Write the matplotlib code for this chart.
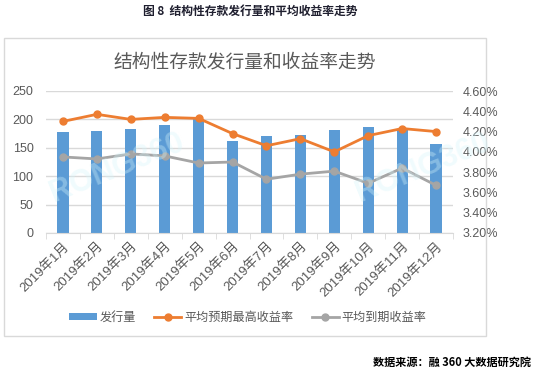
import matplotlib.pyplot as plt
import matplotlib.patches as patches
import numpy as np

plt.rcParams['font.family'] = ['Liberation Sans', 'Noto Sans CJK SC']

months = ['2019年1月', '2019年2月', '2019年3月', '2019年4月', '2019年5月', '2019年6月',
          '2019年7月', '2019年8月', '2019年9月', '2019年10月', '2019年11月', '2019年12月']
volume = [177, 179, 183, 190, 201, 162, 170, 172, 181, 186, 182, 157]
max_yield = [4.30, 4.37, 4.32, 4.34, 4.33, 4.18, 4.06, 4.13, 4.00, 4.16, 4.23, 4.20]
exp_yield = [3.95, 3.93, 3.98, 3.96, 3.89, 3.90, 3.73, 3.78, 3.81, 3.69, 3.84, 3.67]

blue = '#5B9BD5'
orange = '#ED7D31'
grey = '#A5A5A5'
txt = '#595959'

fig = plt.figure(figsize=(5.37, 3.75), dpi=100)

# chart frame
fig.patches.append(patches.Rectangle((4/537, 1-336/375), 482/537, 298/375,
                                     transform=fig.transFigure, fill=False,
                                     edgecolor='#D9D9D9', linewidth=1))

ax = fig.add_axes([46/537, 1-233/375, 407/537, 142/375])
x = np.arange(len(months))

ax.bar(x, volume, width=0.33, color=blue, zorder=2, label='发行量')
ax.set_ylim(0, 250)
ax.set_yticks(range(0, 251, 50))
ax.set_xlim(-0.5, 11.5)
ax.grid(axis='y', color='#D9D9D9', linewidth=1, zorder=0)
for s in ['top', 'left', 'right']:
    ax.spines[s].set_visible(False)
ax.spines['bottom'].set_color('#D9D9D9')
ax.tick_params(axis='y', length=0, labelsize=9, labelcolor=txt, pad=9)
ax.set_xticks(x)
ax.set_xticklabels(months, rotation=45, ha='right', rotation_mode='anchor',
                   fontsize=9.5, color=txt)
ax.tick_params(axis='x', length=0, pad=5)
ax.set_xticks(np.arange(-0.5, 12, 1), minor=True)
ax.tick_params(axis='x', which='minor', length=4, color='#D9D9D9')

ax2 = ax.twinx()
ax2.plot(x, max_yield, color=orange, linewidth=2, marker='o', markersize=5,
         label='平均预期最高收益率', zorder=3)
ax2.plot(x, exp_yield, color=grey, linewidth=2, marker='o', markersize=5,
         label='平均到期收益率', zorder=3)
ax2.set_ylim(3.2, 4.6)
ax2.set_yticks(np.arange(3.2, 4.61, 0.2))
ax2.set_yticklabels(['%.2f%%' % v for v in np.arange(3.2, 4.61, 0.2)])
for s in ax2.spines.values():
    s.set_visible(False)
ax2.tick_params(axis='y', length=0, labelsize=9, labelcolor=txt, pad=7)

# watermark
for wx in (117, 423):
    fig.text(wx/537, 1-168/375, 'RONG360', fontsize=22, color='#D5F5FB', alpha=0.35,
             rotation=22, ha='center', va='center', fontweight='bold')

fig.text(245/537, 1-62/375, '结构性存款发行量和收益率走势', fontsize=13.5, color=txt,
         ha='center', va='center', family='Noto Sans CJK SC')
fig.text(250/537, 1-11/375, '图 8  结构性存款发行量和平均收益率走势', fontsize=8.5,
         fontweight='bold', color='#1F1F2F', ha='center', va='center',
         family='Noto Sans CJK SC')
fig.text(531/537, 1-362/375, '数据来源：融 360 大数据研究院', fontsize=8,
         fontweight='bold', color='black', ha='right', va='center',
         family='Noto Sans CJK SC')

h1, l1 = ax.get_legend_handles_labels()
h2, l2 = ax2.get_legend_handles_labels()
leg = fig.legend(h1 + h2, l1 + l2, loc='center', bbox_to_anchor=(248/537, 1-317/375),
                 ncol=3, frameon=False, handlelength=2.25, handleheight=0.5,
                 columnspacing=1.5, handletextpad=0.25,
                 prop={'family': 'Noto Sans CJK SC', 'size': 8.7})
for t in leg.get_texts():
    t.set_color(txt)

fig.savefig('out.png', dpi=100)
